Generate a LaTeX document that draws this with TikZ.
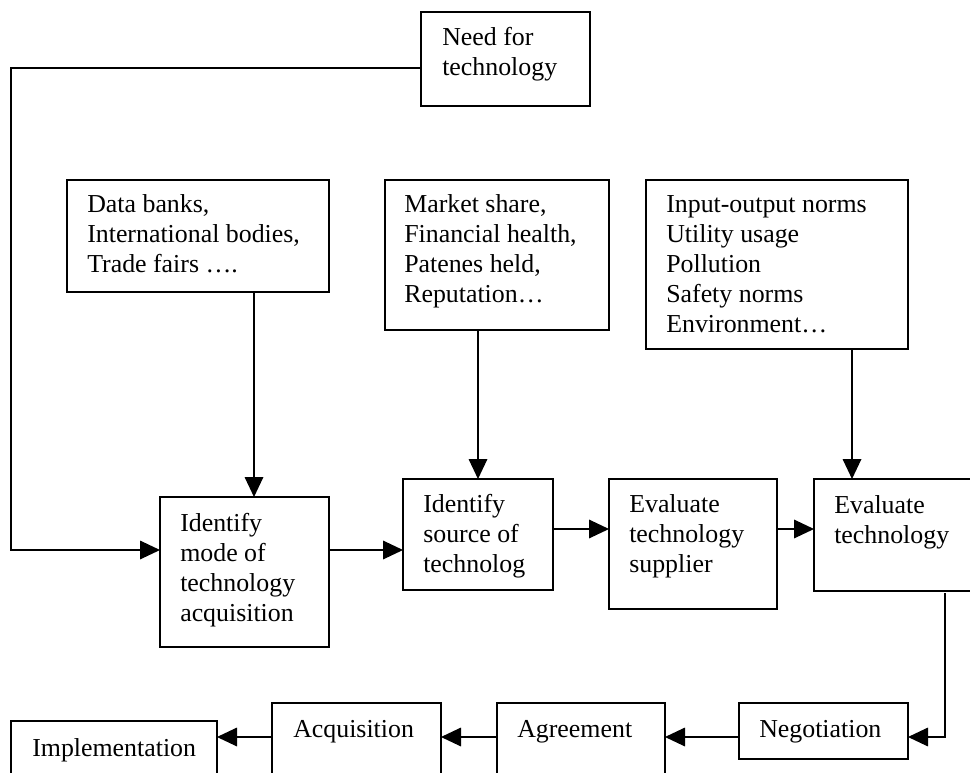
\documentclass[tikz,border=0pt]{standalone}
\usepackage{fontspec}
\setmainfont{Liberation Serif}
\usetikzlibrary{arrows.meta,fit}
\begin{document}
\begin{tikzpicture}[x=0.75pt,y=-0.75pt,
 box/.style={draw, line width=0.9pt, inner sep=0pt, outer sep=0pt},
 txt/.style={anchor=base west, inner sep=0pt, align=left, font=\fontsize{19.4pt}{22.5pt}\selectfont},
 arr/.style={line width=0.9pt, -{Triangle[length=15pt,width=14pt]}},
 ln/.style={line width=0.9pt}]
\useasboundingbox (0,0) rectangle (970,773);
\clip (0,0) rectangle (970,773);
% boxes
\node[box, fit={(421,12) (590,106)}] (need) {};
\node[box, fit={(67,180) (329,292)}] (data) {};
\node[box, fit={(385,180) (609,330)}] (market) {};
\node[box, fit={(646,180) (908,349)}] (input) {};
\node[box, fit={(160,497) (329,647)}] (mode) {};
\node[box, fit={(403,479) (553,590)}] (source) {};
\node[box, fit={(609,479) (777,609)}] (supplier) {};
\node[box, fit={(814,479) (990,591)}] (evtech) {};
\node[box, fit={(739,703) (908,759)}] (neg) {};
\node[box, fit={(497,703) (665,795)}] (agr) {};
\node[box, fit={(272,703) (441,795)}] (acq) {};
\node[box, fit={(11,721) (217,795)}] (impl) {};
% texts (anchored at the baseline of the last line)
\node[txt] (needT) at (442,76) {Need for\\technology};
\node[txt] (dataT) at (87,273) {Data banks,\\International bodies,\\Trade fairs ….};
\node[txt] (marketT) at (404,303) {Market share,\\Financial health,\\Patenes held,\\Reputation…};
\node[txt] (inputT) at (666,333) {Input-output norms\\Utility usage\\Pollution\\Safety norms\\Environment…};
\node[txt] (modeT) at (180,621) {Identify\\mode of\\technology\\acquisition};
\node[txt] (sourceT) at (423,572) {Identify\\source of\\technolog};
\node[txt] (supplierT) at (629,572) {Evaluate\\technology\\supplier};
\node[txt] (evtechT) at (834,543) {Evaluate\\technology};
\node[txt] (negT) at (759,737) {Negotiation};
\node[txt] (agrT) at (517,737) {Agreement};
\node[txt] (acqT) at (293,737) {Acquisition};
\node[txt] (implT) at (32,756) {Implementation};
% helper coordinates
\coordinate (tl) at (11,68);
\coordinate (bl) at (11,550);
\coordinate (xa) at (254,0);
\coordinate (xb) at (478,0);
\coordinate (xc) at (852,0);
\coordinate (ya) at (0,529);
\coordinate (r1) at (945,593);
\coordinate (r2) at (945,737);
% connectors
\draw[arr] (need.west |- tl) -- (tl) -- (bl) -- (mode.west |- bl);
\draw[arr] (data.south -| xa) -- (mode.north -| xa);
\draw[arr] (market.south -| xb) -- (source.north -| xb);
\draw[arr] (input.south -| xc) -- (evtech.north -| xc);
\draw[arr] (mode.east |- bl) -- (source.west |- bl);
\draw[arr] (source.east |- ya) -- (supplier.west |- ya);
\draw[arr] (supplier.east |- ya) -- (evtech.west |- ya);
\draw[arr] (r1) -- (r2) -- (neg.east |- r2);
\draw[arr] (neg.west |- r2) -- (agr.east |- r2);
\draw[arr] (agr.west |- r2) -- (acq.east |- r2);
\draw[arr] (acq.west |- r2) -- (impl.east |- r2);
\end{tikzpicture}
\end{document}
